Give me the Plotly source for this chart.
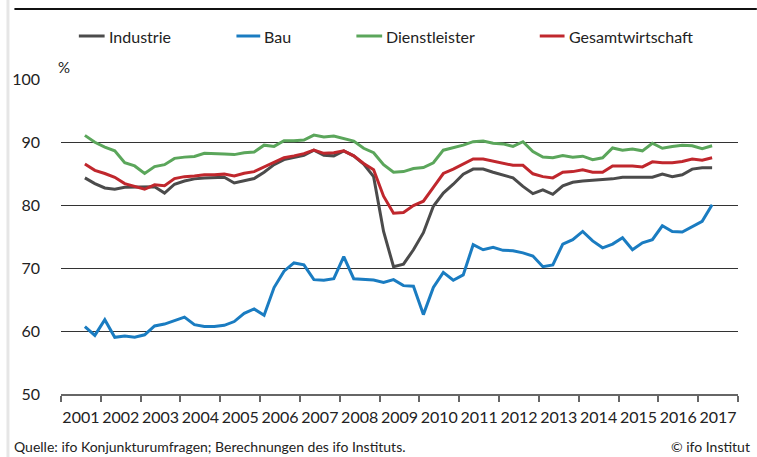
import plotly.graph_objects as go

# Quarterly data, 2001 Q3 .. 2017 Q2 (capacity utilisation, %)
start_year, start_q, n_points = 2001, 3, 64

industrie = [84.3, 83.4, 82.7, 82.5, 82.8, 82.8, 82.8, 82.9, 81.9, 83.3, 83.8, 84.15, 84.3, 84.3, 84.4, 83.5,
             83.8, 84.2, 85.2, 86.4, 87.2, 87.6, 87.9, 88.7, 87.9, 87.8, 88.6, 87.8, 86.5, 84.5, 75.8, 70.2,
             70.6, 72.9, 75.6, 79.8, 81.9, 83.3, 84.9, 85.7, 85.7, 85.2, 84.7, 84.3, 82.95, 81.8, 82.4, 81.7,
             83.05, 83.6, 83.8, 83.9, 83.95, 84.15, 84.4, 84.4, 84.4, 84.4, 84.9, 84.5, 84.8, 85.7, 85.9, 85.9]
bau = [60.7, 59.3, 61.8, 59.0, 59.2, 59.0, 59.4, 60.8, 61.1, 61.7, 62.2, 61.0, 60.7, 60.7, 60.9, 61.5,
       62.8, 63.5, 62.5, 66.9, 69.5, 70.8, 70.5, 68.15, 68.05, 68.3, 71.8, 68.3, 68.2, 68.1, 67.7, 68.15,
       67.2, 67.1, 62.6, 66.9, 69.3, 68.05, 68.9, 73.7, 72.9, 73.3, 72.8, 72.75, 72.4, 71.9, 70.2, 70.5,
       73.8, 74.5, 75.8, 74.3, 73.2, 73.8, 74.8, 72.9, 74.0, 74.5, 76.7, 75.8, 75.7, 76.6, 77.4, 80.05]
dienstleister = [91.05, 89.95, 89.2, 88.6, 86.7, 86.2, 85.0, 86.1, 86.4, 87.4, 87.6, 87.7, 88.2, 88.2, 88.1, 88.0,
                 88.3, 88.4, 89.5, 89.3, 90.2, 90.2, 90.3, 91.1, 90.8, 90.95, 90.6, 90.15, 89.0, 88.3, 86.4, 85.2,
                 85.3, 85.8, 85.95, 86.7, 88.7, 89.05, 89.5, 90.05, 90.15, 89.8, 89.7, 89.3, 90.05, 88.5, 87.6, 87.5,
                 87.85, 87.6, 87.75, 87.2, 87.5, 89.05, 88.7, 88.9, 88.6, 89.8, 89.0, 89.3, 89.5, 89.4, 88.95, 89.4]
gesamt = [86.5, 85.5, 85.0, 84.4, 83.4, 83.0, 82.5, 83.2, 83.05, 84.2, 84.5, 84.6, 84.8, 84.8, 84.9, 84.6,
          85.05, 85.3, 86.05, 86.7, 87.5, 87.8, 88.15, 88.7, 88.2, 88.3, 88.6, 87.8, 86.6, 85.6, 81.4, 78.7,
          78.8, 79.9, 80.6, 82.8, 85.0, 85.7, 86.5, 87.3, 87.3, 87.0, 86.7, 86.3, 86.3, 84.95, 84.5, 84.3,
          85.2, 85.3, 85.6, 85.2, 85.2, 86.2, 86.2, 86.2, 86.05, 86.85, 86.7, 86.7, 86.9, 87.3, 87.1, 87.5]

series_names = ["Industrie", "Bau", "Dienstleister", "Gesamtwirtschaft"]
series_values = [industrie, bau, dienstleister, gesamt]
series_colors = ["#4b4b4b", "#1a7cc1", "#5ba65b", "#c0272d"]

year_labels = [str(y) for y in range(2001, 2018)]
y_ticks = [50, 60, 70, 80, 90, 100]

# quarter positions on a numeric year axis
x = []
for k in range(n_points):
    q_index = (start_q - 1) + k
    x.append(start_year + q_index // 4 + (q_index % 4) / 4 + 0.1)

W, H = 757, 457
L, R, T, B = 55, 19, 79, 63
PW, PH = W - L - R, H - T - B

def px(xp):
    return (xp - L) / PW

def py(yp):
    return (H - B - yp) / PH

FONT = "Lato"

fig = go.Figure()
for name, vals, col in zip(series_names, series_values, series_colors):
    fig.add_trace(go.Scatter(x=x, y=vals, mode="lines", name=name,
                             line=dict(color=col, width=3), showlegend=False))

shapes = []
annotations = []
# manual legend
legend_items = [(73, 99, 101), (232, 256, 258), (353, 379, 381), (538, 563, 565)]
leg_y = 36
for (x0, x1, xt), name, col in zip(legend_items, series_names, series_colors):
    shapes.append(dict(type="line", xref="paper", yref="paper", x0=px(x0), x1=px(x1),
                       y0=py(leg_y), y1=py(leg_y), line=dict(color=col, width=3)))
    annotations.append(dict(text=name, xref="paper", yref="paper", x=px(xt), y=py(leg_y),
                            xanchor="left", yanchor="middle", showarrow=False,
                            font=dict(family=FONT, size=16, color="#222")))

# top rule and left border
shapes.append(dict(type="line", xref="paper", yref="paper", x0=px(8), x1=px(757),
                   y0=py(9), y1=py(9), line=dict(color="#111", width=2)))
shapes.append(dict(type="rect", xref="paper", yref="paper", x0=px(0), x1=px(3),
                   y0=py(0), y1=py(457), fillcolor="#e6e6e6", line=dict(width=0)))

annotations.append(dict(text="%", xref="paper", yref="paper", x=px(50), y=py(67),
                        xanchor="left", yanchor="middle", showarrow=False,
                        font=dict(family=FONT, size=15, color="#222")))
annotations.append(dict(text="Quelle: ifo Konjunkturumfragen; Berechnungen des ifo Instituts.",
                        xref="paper", yref="paper", x=px(6), y=py(446),
                        xanchor="left", yanchor="middle", showarrow=False,
                        font=dict(family=FONT, size=14, color="#222")))
annotations.append(dict(text="© ifo Institut", xref="paper", yref="paper", x=px(752), y=py(446),
                        xanchor="right", yanchor="middle", showarrow=False,
                        font=dict(family=FONT, size=14, color="#222")))

fig.update_layout(
    width=W, height=H,
    margin=dict(l=L, r=R, t=T, b=B),
    paper_bgcolor="white", plot_bgcolor="white",
    font=dict(family=FONT, size=16, color="#222"),
    shapes=shapes, annotations=annotations,
    xaxis=dict(range=[2001, 2018], tickmode="array",
               tickvals=[int(t) + 0.5 for t in year_labels], ticktext=year_labels,
               ticks="", showgrid=False, zeroline=False,
               showline=True, linecolor="#666", linewidth=1.5,
               ticklabelstandoff=8,
               minor=dict(ticks="outside", ticklen=6, tickcolor="#666", tickwidth=1.5,
                          tick0=2001, dtick=1, showgrid=False),
               tickfont=dict(family=FONT, size=16, color="#222"), fixedrange=True),
    yaxis=dict(range=[50, 100], tickmode="array", tickvals=y_ticks,
               showgrid=True, gridcolor="#333", gridwidth=1, zeroline=False,
               ticks="", ticklabelstandoff=20,
               tickfont=dict(family=FONT, size=16, color="#222"), fixedrange=True),
)

fig.write_html("out.html", config={"displayModeBar": False},
               post_script="document.body.style.margin='0';document.body.style.overflow='hidden';")
